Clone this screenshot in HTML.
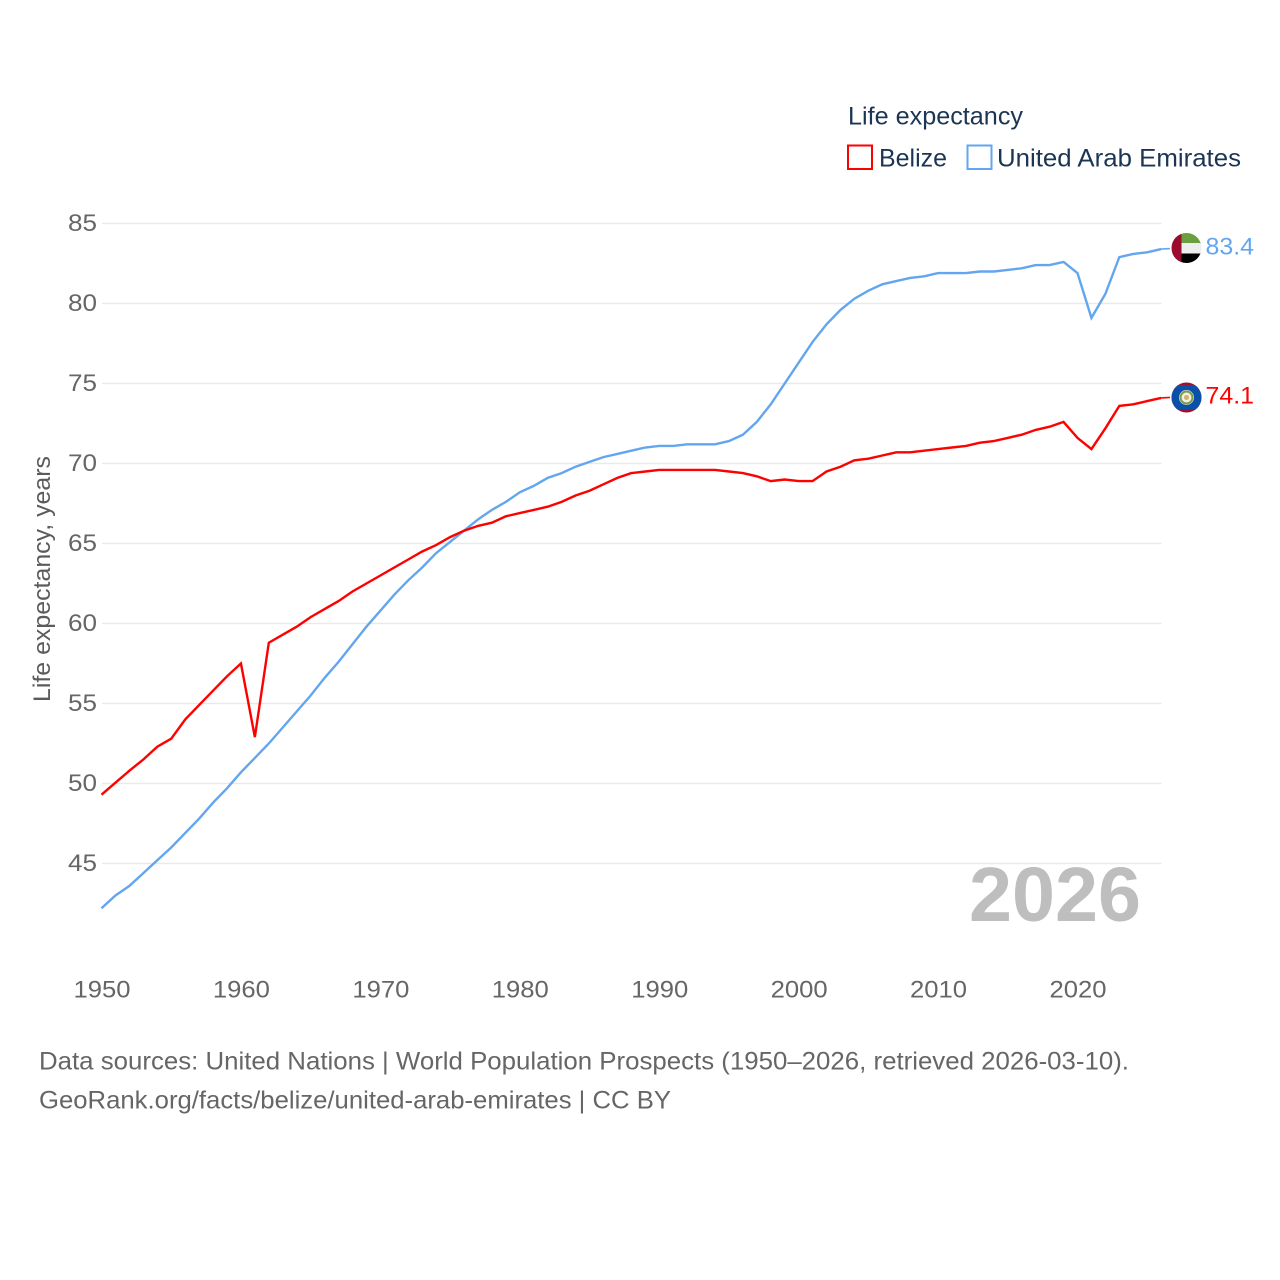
<!DOCTYPE html>
<html lang="en">
<head>
<meta charset="utf-8">
<title>Life expectancy: Belize and United Arab Emirates</title>
<style>
html,body{margin:0;padding:0;background:#fff;width:1280px;height:1280px;overflow:hidden}
svg{display:block}
text{font-family:"Liberation Sans",sans-serif}
</style>
</head>
<body>
<svg id="chart" width="1280" height="1280" viewBox="0 0 1280 1280" xmlns="http://www.w3.org/2000/svg">
  <defs>
    <clipPath id="flag-clip-uae"><circle cx="1186.500" cy="248" r="15"/></clipPath>
    <clipPath id="flag-clip-blz"><circle cx="1186.500" cy="397.500" r="15"/></clipPath>
  </defs>
  <g id="grid"></g>
  <g id="yticks"></g>
  <g id="xticks"></g>
  <text transform="translate(50,579) rotate(-90)" text-anchor="middle" font-size="24" fill="#5b5b5b" textLength="246" lengthAdjust="spacingAndGlyphs">Life expectancy, years</text>
  <text x="1055" y="921" text-anchor="middle" font-size="77" font-weight="700" fill="#bebebe" textLength="172" lengthAdjust="spacingAndGlyphs" style="font-weight:700">2026</text>
  <g id="series"></g>
  <g clip-path="url(#flag-clip-uae)">
    <rect x="1171" y="233" width="31" height="10" fill="#6a9e3f"/>
    <rect x="1171" y="243" width="31" height="10.500" fill="#eeeeee"/>
    <rect x="1171" y="253.500" width="31" height="10" fill="#000"/>
    <rect x="1171" y="233" width="10.500" height="31" fill="#9b0b2e"/>
  </g>
  <g clip-path="url(#flag-clip-blz)">
    <rect x="1171" y="382" width="31" height="31" fill="#9b1030"/>
    <rect x="1171" y="385" width="31" height="25" fill="#0a4fa8"/>
    <circle cx="1186.500" cy="397.500" r="7.500" fill="#eef0e6"/>
    <circle cx="1186.500" cy="397.500" r="6" fill="none" stroke="#7c9a4a" stroke-width="2"/>
    <circle cx="1186.500" cy="397.500" r="2.500" fill="#d8b06a"/>
  </g>
  <g id="endlabels"></g>
  <g>
    <text x="848" y="124.500" font-size="25" fill="#1b3553" textLength="175" lengthAdjust="spacingAndGlyphs">Life expectancy</text>
    <rect x="848" y="145.500" width="24" height="23.500" fill="#fff" stroke="#ff0000" stroke-width="2"/>
    <text x="879" y="166.500" font-size="25" fill="#1b3553" textLength="68" lengthAdjust="spacingAndGlyphs">Belize</text>
    <rect x="967.500" y="145.500" width="24" height="23.500" fill="#fff" stroke="#63a6ef" stroke-width="2"/>
    <text x="997" y="166.500" font-size="25" fill="#1b3553" textLength="244" lengthAdjust="spacingAndGlyphs">United Arab Emirates</text>
  </g>
  <text x="39" y="1069.500" font-size="25" fill="#666" textLength="1090" lengthAdjust="spacingAndGlyphs">Data sources: United Nations | World Population Prospects (1950–2026, retrieved 2026-03-10).</text>
  <text x="39" y="1108.500" font-size="25" fill="#666" textLength="632" lengthAdjust="spacingAndGlyphs">GeoRank.org/facts/belize/united-arab-emirates | CC BY</text>
</svg>
<script>
const startYear = 1950;
const yTickValues = [45, 50, 55, 60, 65, 70, 75, 80, 85];
const xTickValues = [1950, 1960, 1970, 1980, 1990, 2000, 2010, 2020];
const belizeValues = [49.3,50.05,50.8,51.5,52.3,52.8,54.0,54.9,55.8,56.7,57.5,52.9,58.8,59.3,59.8,60.4,60.9,61.4,62.0,62.5,63.0,63.5,64.0,64.5,64.9,65.4,65.8,66.1,66.3,66.7,66.9,67.1,67.3,67.6,68.0,68.3,68.7,69.1,69.4,69.5,69.6,69.6,69.6,69.6,69.6,69.5,69.4,69.2,68.9,69.0,68.9,68.9,69.5,69.8,70.2,70.3,70.5,70.7,70.7,70.8,70.9,71.0,71.1,71.3,71.4,71.6,71.8,72.1,72.3,72.6,71.6,70.9,72.2,73.6,73.7,73.9,74.1];
const uaeValues = [42.2,43.0,43.6,44.4,45.2,46.0,46.9,47.8,48.8,49.7,50.7,51.6,52.5,53.5,54.5,55.5,56.6,57.6,58.7,59.8,60.8,61.8,62.7,63.5,64.4,65.1,65.8,66.5,67.1,67.6,68.2,68.6,69.1,69.4,69.8,70.1,70.4,70.6,70.8,71.0,71.1,71.1,71.2,71.2,71.2,71.4,71.8,72.6,73.7,75.0,76.3,77.6,78.7,79.6,80.3,80.8,81.2,81.4,81.6,81.7,81.9,81.9,81.9,82.0,82.0,82.1,82.2,82.4,82.4,82.6,81.9,79.1,80.6,82.9,83.1,83.2,83.4];

const NS = 'http://www.w3.org/2000/svg';
const xScale = function (year) { return 101.5 + (year - 1950) * (976 / 70); };
const yScale = function (value) { return 223.5 + (85 - value) * 16; };
const make = function (tag, attrs, parent) {
  const el = document.createElementNS(NS, tag);
  Object.keys(attrs).forEach(function (k) { el.setAttribute(k, attrs[k]); });
  parent.appendChild(el);
  return el;
};

const gridGroup = document.getElementById('grid');
const yGroup = document.getElementById('yticks');
const xGroup = document.getElementById('xticks');
const seriesGroup = document.getElementById('series');
const endGroup = document.getElementById('endlabels');

yTickValues.forEach(function (v) {
  const line = make('line', {x1: 102, x2: 1161.5, y1: yScale(v), y2: yScale(v), stroke: '#e9e9e9', 'stroke-width': 1.5}, gridGroup);
  
  
  const label = make('text', {x: 97, y: yScale(v) + 7.5, 'text-anchor': 'end', 'font-size': 24, fill: '#666', textLength: 29, lengthAdjust: 'spacingAndGlyphs'}, yGroup);
  label.textContent = String(v);
  
  
});

xTickValues.forEach(function (v) {
  const label = make('text', {x: xScale(v) + 0.5, y: 997.5, 'text-anchor': 'middle', 'font-size': 24, fill: '#666', textLength: 57, lengthAdjust: 'spacingAndGlyphs'}, xGroup);
  label.textContent = String(v);
  
  
});

const drawSeries = function (values, color, lineName, labelName, connectorName) {
  const points = values.map(function (v, i) { return xScale(startYear + i).toFixed(2) + ',' + yScale(v).toFixed(2); }).join(' ');
  const line = make('polyline', {points: points, fill: 'none', stroke: color, 'stroke-width': 2.4, 'stroke-linejoin': 'miter'}, seriesGroup);
  
  
  const last = values[values.length - 1];
  const lastX = xScale(startYear + values.length - 1);
  const connector = make('line', {x1: lastX, x2: 1170, y1: yScale(last), y2: yScale(last) - 0.5, stroke: color, 'stroke-width': 1.6}, seriesGroup);
  
  
  const label = make('text', {x: 1205.5, y: yScale(last) + 5.5, 'font-size': 24, fill: color, textLength: 48.5, lengthAdjust: 'spacingAndGlyphs'}, endGroup);
  label.textContent = last.toFixed(1);
  
  
};

drawSeries(uaeValues, '#63a6ef', 'line-united-arab-emirates', 'end-value-united-arab-emirates', 'connector-united-arab-emirates');
drawSeries(belizeValues, '#ff0000', 'line-belize', 'end-value-belize', 'connector-belize');
</script>
</body>
</html>
